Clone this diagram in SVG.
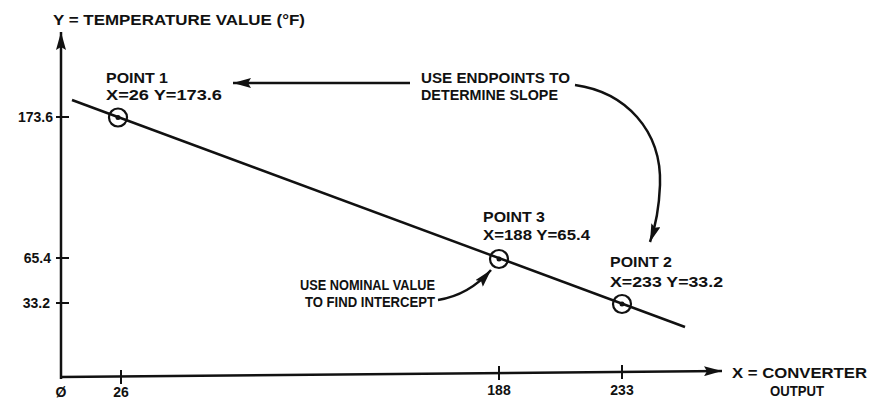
<svg xmlns="http://www.w3.org/2000/svg" width="869" height="404" viewBox="0 0 869 404">
<style>
text{font-family:"Liberation Sans",Arial,sans-serif;font-weight:bold;font-size:14px;fill:#111}
.ln{stroke:#111;stroke-width:2.5;fill:none}
.th{stroke:#111;stroke-width:2;fill:none}
.pt{stroke:#111;stroke-width:2.2;fill:none}
.dot{fill:#111}
</style>
<defs>
<marker id="ah" viewBox="0 0 18 10" refX="18" refY="5" markerWidth="18" markerHeight="10" markerUnits="userSpaceOnUse" orient="auto">
<path d="M0,0 L18,5 L0,10 L3,5 z" fill="#111"/>
</marker>
</defs>
<rect width="869" height="404" fill="#fff"/>
<g id="connectors">
<line class="ln" x1="61" y1="379" x2="61" y2="32" marker-end="url(#ah)"/>
<line class="ln" x1="60" y1="377" x2="722" y2="371" marker-end="url(#ah)"/>
<line class="th" x1="56" y1="117" x2="69" y2="117"/>
<line class="th" x1="56" y1="258" x2="69" y2="258"/>
<line class="th" x1="56" y1="303" x2="69" y2="303"/>
<line class="th" x1="121" y1="370" x2="121" y2="384"/>
<line class="th" x1="499" y1="366" x2="499" y2="380"/>
<line class="th" x1="622" y1="365" x2="622" y2="379"/>
<line class="ln" x1="72" y1="100" x2="685" y2="327"/>
<line class="ln" x1="410" y1="83" x2="233" y2="83" marker-end="url(#ah)"/>
<path class="ln" d="M575,85 C625,92 662,130 660,185 C659,210 655,228 650,242" marker-end="url(#ah)"/>
<path class="ln" d="M438,300 Q469,295 491,270" marker-end="url(#ah)"/>
</g>
<g id="axis-labels">
<text x="53" y="25" textLength="252" lengthAdjust="spacingAndGlyphs">Y = TEMPERATURE VALUE (°F)</text>
<text x="53" y="122" text-anchor="end">173.6</text>
<text x="51" y="263" text-anchor="end">65.4</text>
<text x="50" y="308" text-anchor="end">33.2</text>
<text x="61" y="397" text-anchor="middle">Ø</text>
<text x="121" y="397" text-anchor="middle">26</text>
<text x="499" y="395" text-anchor="middle">188</text>
<text x="622" y="395" text-anchor="middle">233</text>
<text x="732" y="378" textLength="135" lengthAdjust="spacingAndGlyphs">X = CONVERTER</text>
<text x="770" y="396" textLength="54" lengthAdjust="spacingAndGlyphs">OUTPUT</text>
</g>
<g id="point1">
<circle class="pt" cx="118" cy="117.5" r="9"/>
<circle class="dot" cx="118" cy="117.5" r="2.5"/>
<text x="106" y="83" textLength="62" lengthAdjust="spacingAndGlyphs">POINT 1</text>
<text x="106" y="100" textLength="116" lengthAdjust="spacingAndGlyphs">X=26  Y=173.6</text>
</g>
<g id="point3">
<circle class="pt" cx="499" cy="259" r="9"/>
<circle class="dot" cx="499" cy="259" r="2.5"/>
<text x="483" y="222" textLength="62" lengthAdjust="spacingAndGlyphs">POINT 3</text>
<text x="483" y="240" textLength="107" lengthAdjust="spacingAndGlyphs">X=188  Y=65.4</text>
</g>
<g id="point2">
<circle class="pt" cx="622" cy="304" r="9"/>
<circle class="dot" cx="622" cy="304" r="2.5"/>
<text x="610" y="267" textLength="62" lengthAdjust="spacingAndGlyphs">POINT 2</text>
<text x="610" y="287" textLength="113" lengthAdjust="spacingAndGlyphs">X=233  Y=33.2</text>
</g>
<g id="note-slope">
<text x="421" y="83" textLength="149" lengthAdjust="spacingAndGlyphs">USE ENDPOINTS TO</text>
<text x="421" y="100" textLength="137" lengthAdjust="spacingAndGlyphs">DETERMINE SLOPE</text>
</g>
<g id="note-intercept">
<text x="300" y="290" textLength="135" lengthAdjust="spacingAndGlyphs">USE NOMINAL VALUE</text>
<text x="305" y="307" textLength="130" lengthAdjust="spacingAndGlyphs">TO FIND INTERCEPT</text>
</g>
</svg>
